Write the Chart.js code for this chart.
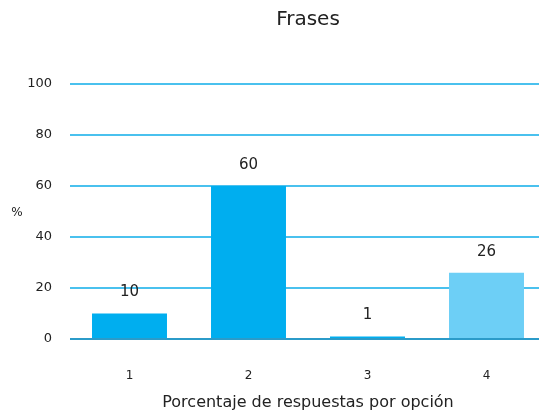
<!DOCTYPE html>
<html>
<head>
<meta charset="utf-8">
<script src="https://cdn.jsdelivr.net/npm/chart.js@4.4.0/dist/chart.umd.min.js"></script>
<style>
  html, body { margin: 0; padding: 0; overflow: hidden; background: #fff; }
  #wrap { width: 560px; height: 418px; }
</style>
</head>
<body>
<div id="wrap"><canvas id="frasesChart" width="560" height="418"></canvas></div>
<script>
const categories = ["1", "2", "3", "4"];
const values = [10, 60, 1, 26];
const barColors = ["#00AEEF", "#00AEEF", "#00AEEF", "#6DCFF6"];
const yTicks = [0, 20, 40, 60, 80, 100];

const FONT = "'DejaVu Sans', sans-serif";

// etiquetas de valor encima de cada barra
const valueLabels = {
  id: "valueLabels",
  afterDatasetsDraw(chart) {
    const ctx = chart.ctx;
    const meta = chart.getDatasetMeta(0);
    ctx.save();
    ctx.fillStyle = "#222";
    ctx.font = "15px " + FONT;
    ctx.textAlign = "center";
    ctx.textBaseline = "middle";
    meta.data.forEach((bar, i) => {
      ctx.fillText(String(values[i]), bar.x, bar.y - 21);
    });
    ctx.restore();
  },
};

// titulo del eje y sin rotar
const yTitle = {
  id: "yTitle",
  afterDraw(chart) {
    const ctx = chart.ctx;
    ctx.save();
    ctx.fillStyle = "#222";
    ctx.font = "12px " + FONT;
    ctx.textAlign = "center";
    ctx.textBaseline = "middle";
    ctx.fillText("%", 17, 213);
    ctx.restore();
  },
};

new Chart(document.getElementById("frasesChart"), {
  type: "bar",
  data: {
    labels: categories,
    datasets: [{
      data: values,
      backgroundColor: barColors,
      borderWidth: 0,
      barPercentage: 0.63,
      categoryPercentage: 1,
    }],
  },
  options: {
    responsive: false,
    animation: false,
    layout: { padding: { left: 0, right: 14, top: 0, bottom: 0 } },
    plugins: {
      legend: { display: false },
      tooltip: { enabled: false },
      title: {
        display: true,
        text: "Frases",
        color: "#222",
        font: { family: FONT, size: 20, weight: "normal" },
        padding: { top: 8, bottom: 52 },
        fullSize: false,
      },
    },
    scales: {
      x: {
        grid: { display: false, drawTicks: false },
        border: { display: false },
        ticks: { color: "#222", font: { family: FONT, size: 12 }, padding: 30 },
        title: {
          display: true,
          text: "Porcentaje de respuestas por opción",
          color: "#222",
          font: { family: FONT, size: 16 },
          padding: { top: 0, bottom: 6 },
        },
        afterFit(scale) { scale.height = 79; },
      },
      y: {
        min: 0,
        max: 100,
        afterBuildTicks(scale) { scale.ticks = yTicks.map((v) => ({ value: v })); },
        grid: {
          drawTicks: false,
          color: (c) => (c.tick && c.tick.value === 0 ? "#2B9BC9" : "#4AC1EE"),
          lineWidth: 2,
        },
        border: { display: false },
        ticks: { color: "#222", font: { family: FONT, size: 13 }, padding: 18 },
        afterFit(scale) { scale.width = 70; },
      },
    },
  },
  plugins: [valueLabels, yTitle],
});
</script>
</body>
</html>
